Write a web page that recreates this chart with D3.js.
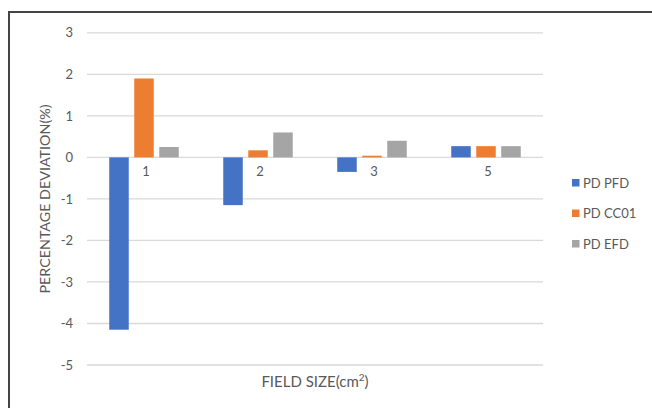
<!DOCTYPE html>
<html>
<head>
<meta charset="utf-8">
<script src="https://cdn.jsdelivr.net/npm/d3@7"></script>
<style>
  html, body { margin: 0; padding: 0; background: #fff; }
  svg { display: block; }
  text { font-family: "Lato", "Open Sans", sans-serif; fill: #595959; }
</style>
</head>
<body>
<svg id="chart" width="652" height="408"></svg>
<script>
// Field sizes (cm²) along the x axis
const categories = ["1", "2", "3", "5"];
// Percentage deviation for each series, one value per field size
const seriesNames = ["PD PFD", "PD CC01", "PD EFD"];
const pdPFD  = [-4.15, -1.15, -0.35, 0.27];
const pdCC01 = [1.9, 0.17, 0.04, 0.27];
const pdEFD  = [0.25, 0.6, 0.4, 0.27];
const seriesColors = ["#4472C4", "#ED7D31", "#A5A5A5"];
const yTicks = [3, 2, 1, 0, -1, -2, -3, -4, -5];

const series = [pdPFD, pdCC01, pdEFD];

const svg = d3.select("#chart");

// Frame around the chart area
svg.append("path")
  .attr("d", "M9,408 V12 H652")
  .attr("fill", "none")
  .attr("stroke", "#444")
  .attr("stroke-width", 2);

const plot = { left: 87, right: 543, top: 32.8, bottom: 365 };

const y = d3.scaleLinear().domain([-5, 3]).range([plot.bottom, plot.top]);
const x0 = d3.scaleBand().domain(categories).range([plot.left, plot.right]);
const barW = 19.5, barStep = 25;

// Horizontal gridlines
svg.append("g")
  .selectAll("line")
  .data(yTicks)
  .join("line")
  .attr("x1", plot.left).attr("x2", plot.right)
  .attr("y1", d => y(d)).attr("y2", d => y(d))
  .attr("stroke", "#D9D9D9")
  .attr("stroke-width", 1.3);

// Y tick labels
const yAxis = d3.axisLeft(y).tickValues(yTicks).tickSize(0).tickPadding(0)
  .tickFormat(d => d < 0 ? "-" + Math.abs(d) : String(d));
const gy = svg.append("g").attr("transform", `translate(${plot.left - 14},0)`).call(yAxis);
gy.select(".domain").remove();
gy.selectAll("text")
  .attr("font-size", 13)
  .style("font-family", "Lato, 'Open Sans', sans-serif")
  .attr("fill", "#595959");

// Bars
const groups = svg.append("g").selectAll("g")
  .data(categories)
  .join("g")
  .attr("transform", d => `translate(${x0(d) + x0.bandwidth() / 2},0)`);

groups.selectAll("rect")
  .data((c, ci) => series.map((s, si) => ({ si, v: s[ci] })))
  .join("rect")
  .attr("x", d => (d.si - 1) * barStep - barW / 2)
  .attr("width", barW)
  .attr("y", d => y(Math.max(0, d.v)))
  .attr("height", d => Math.abs(y(d.v) - y(0)))
  .attr("fill", d => seriesColors[d.si]);

// Category labels sit just under the zero line
const xAxis = d3.axisBottom(x0).tickSize(0).tickPadding(0);
const gx = svg.append("g").attr("transform", `translate(2,${y(0) + 9})`).call(xAxis);
gx.select(".domain").remove();
gx.selectAll("text")
  .attr("font-size", 13)
  .style("font-family", "Lato, 'Open Sans', sans-serif")
  .attr("fill", "#595959");

// Axis titles
svg.append("text")
  .attr("transform", "translate(50,199) rotate(-90)")
  .attr("text-anchor", "middle")
  .attr("font-size", 14.3)
  .text("PERCENTAGE DEVIATION(%)");

const xt = svg.append("text")
  .attr("x", 315).attr("y", 387)
  .attr("text-anchor", "middle")
  .attr("font-size", 15);
xt.append("tspan").text("FIELD SIZE(cm");
xt.append("tspan").attr("dy", -6).attr("font-size", 10).text("2");
xt.append("tspan").attr("dy", 6).text(")");

// Legend
const legend = svg.append("g").selectAll("g")
  .data(seriesNames)
  .join("g")
  .attr("transform", (d, i) => `translate(572,${183 + i * 30.5})`);
legend.append("rect")
  .attr("x", 0).attr("y", -4).attr("width", 7.5).attr("height", 7.5)
  .attr("fill", (d, i) => seriesColors[i]);
legend.append("text")
  .attr("x", 11).attr("y", 0).attr("dy", "0.35em")
  .attr("font-size", 13)
  .text(d => d);
</script>
</body>
</html>
